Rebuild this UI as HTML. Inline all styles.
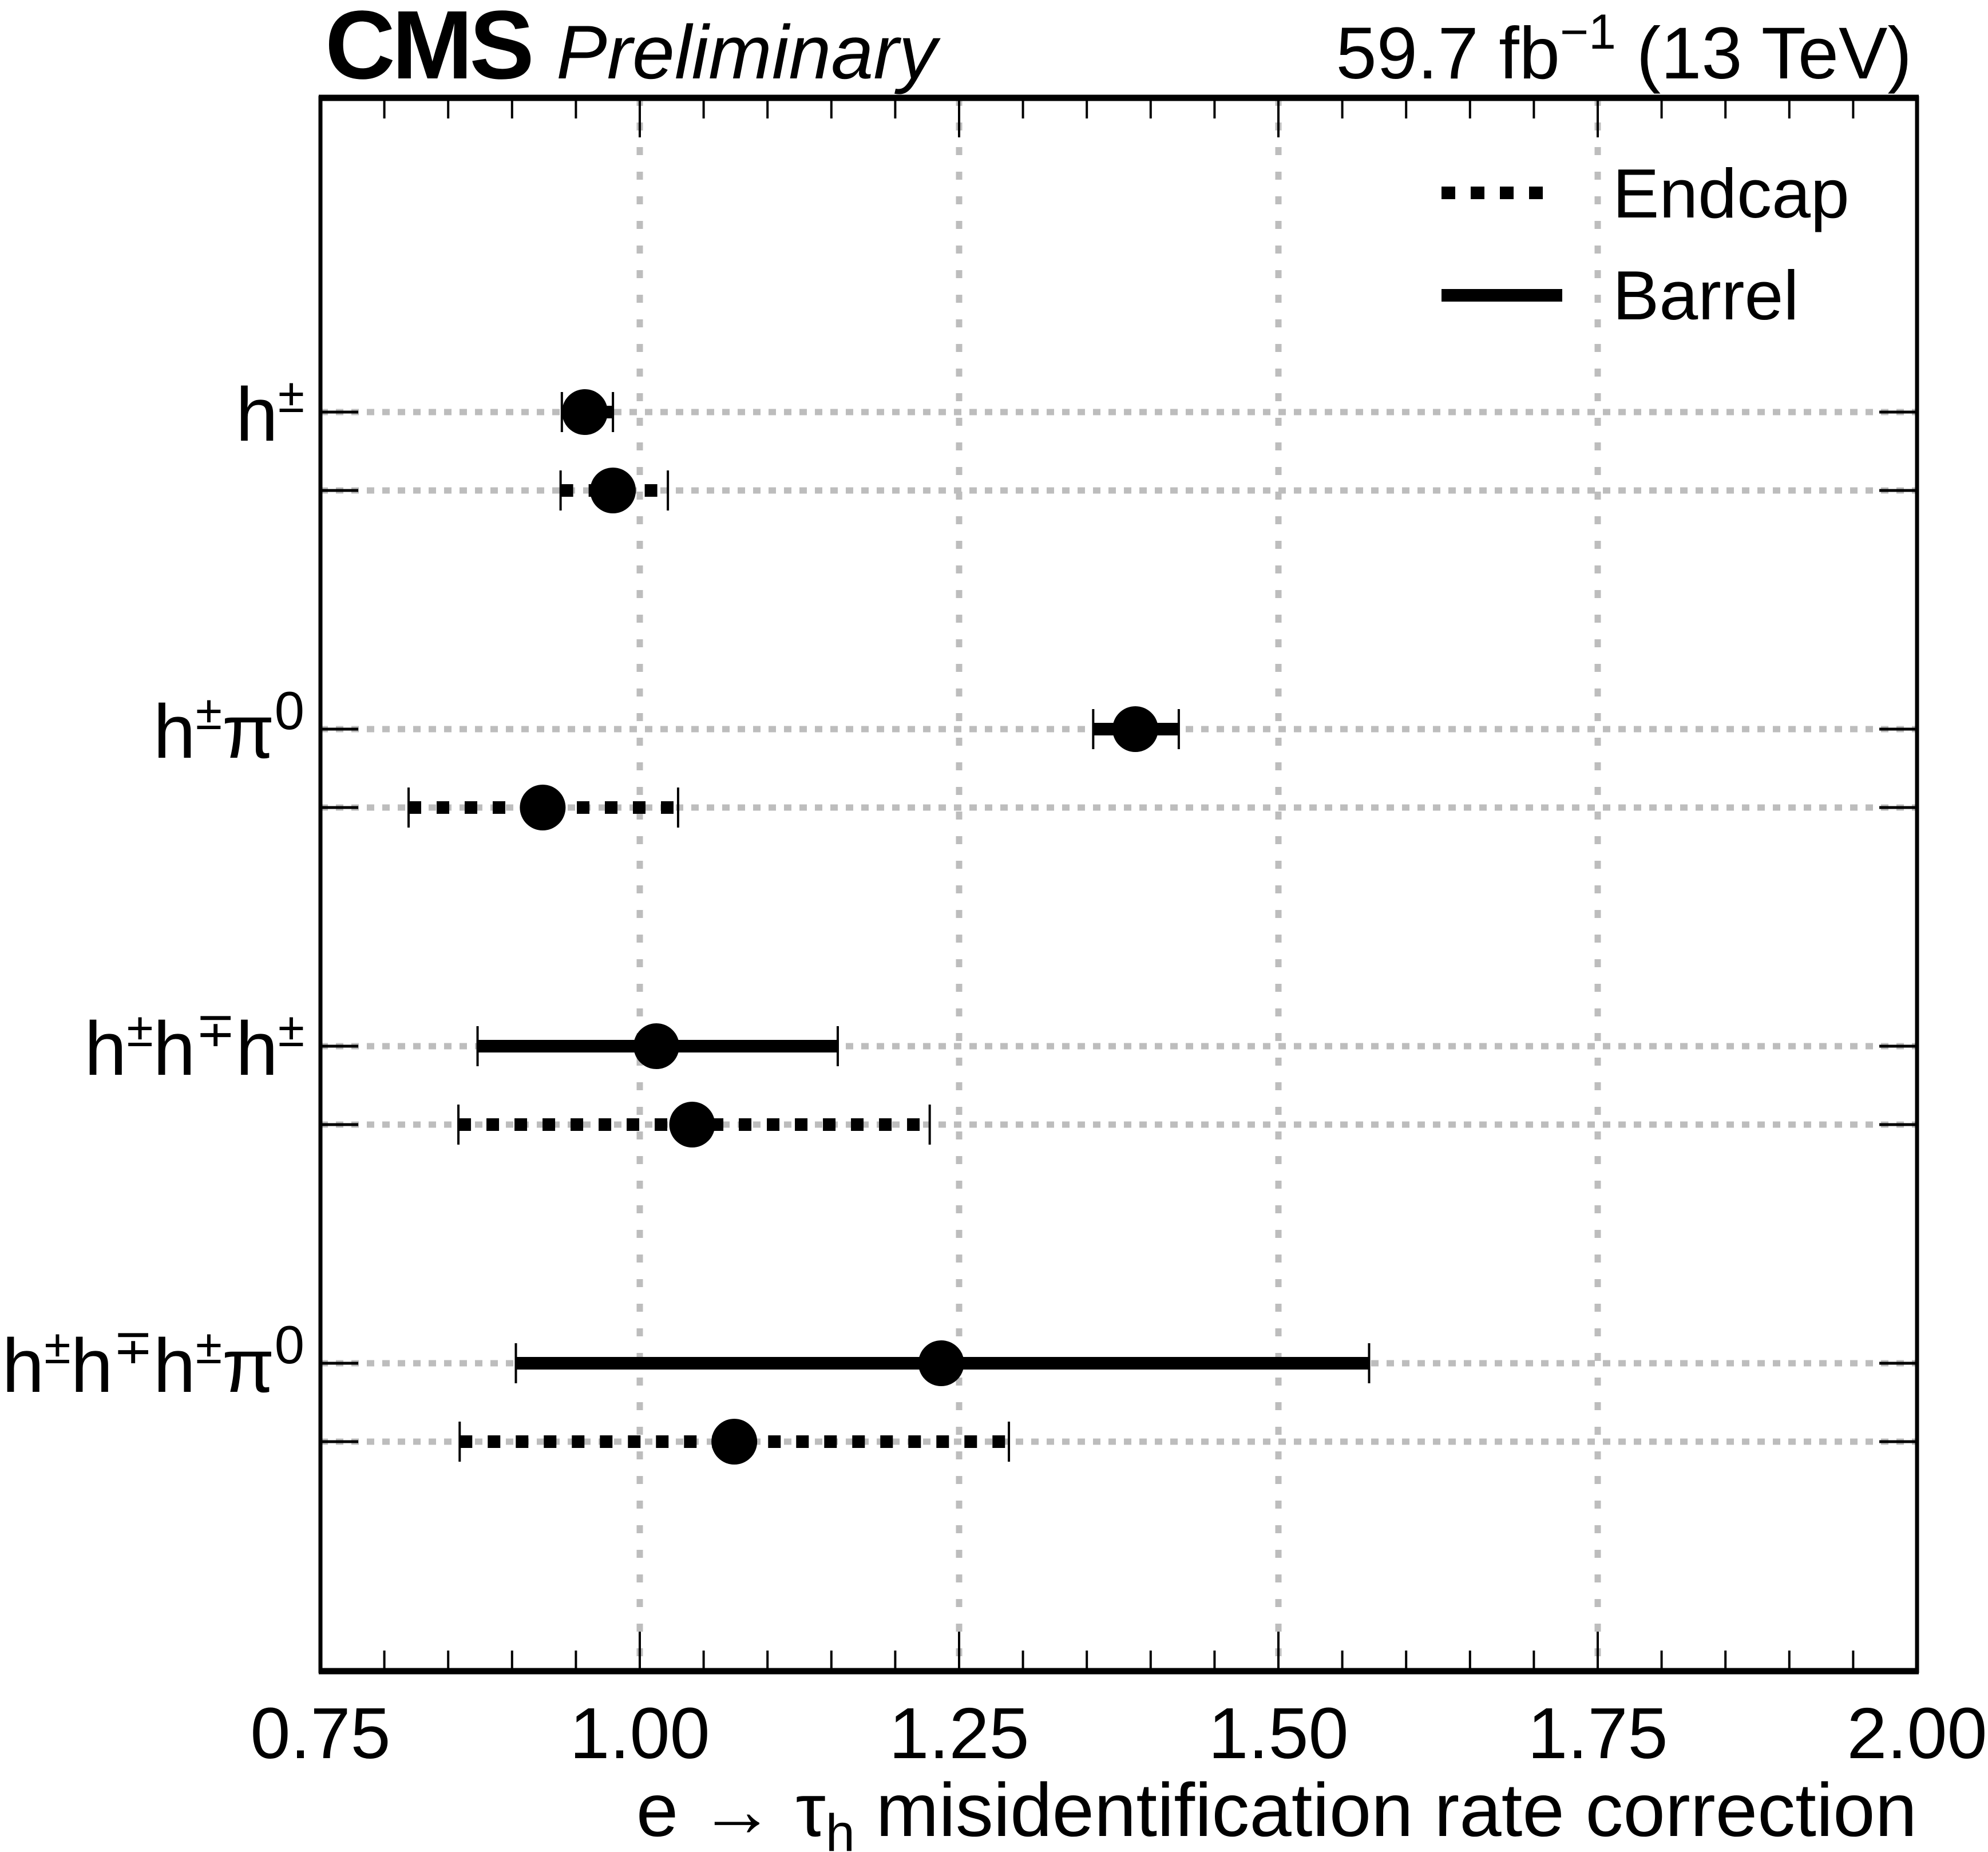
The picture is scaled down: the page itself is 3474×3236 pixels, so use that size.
<!DOCTYPE html>
<html><head><meta charset="utf-8"><style>
html,body{margin:0;padding:0;background:#fff;}
svg{display:block;font-family:"Liberation Sans",sans-serif;}
</style></head><body>
<svg id="chart" width="3474" height="3236" viewBox="0 0 3474 3236" xmlns="http://www.w3.org/2000/svg">
<g id="grid"></g>
<g id="series"></g>
<g id="axes"></g>
<text x="568" y="137" font-size="170" font-weight="bold" letter-spacing="-6">CMS</text>
<text x="972" y="137" font-size="133" font-style="italic">Preliminary</text>
<text x="3341" y="137" font-size="128" text-anchor="end">59.7 fb<tspan font-size="86" dy="-52">−1</tspan><tspan dy="52"> (13 TeV)</tspan></text>
<g>
<line x1="2519" y1="337" x2="2708" y2="337" stroke="#000" stroke-width="22" stroke-dasharray="24 27"/>
<text x="2818" y="380" font-size="122">Endcap</text>
<line x1="2519" y1="516" x2="2730" y2="516" stroke="#000" stroke-width="22"/>
<text x="2818" y="558" font-size="122">Barrel</text>
</g>
<text x="3350" y="3208" font-size="132" text-anchor="end">e → τ<tspan font-size="92" dy="26">h</tspan><tspan dy="-26"> misidentification rate correction</tspan></text>
</svg>
<script>
const categories = ["h±", "h±π0", "h±h∓h±", "h±h∓h±π0"];
const barrelValues = [0.957, 1.388, 1.013, 1.236];
const barrelLow = [0.939, 1.355, 0.873, 0.903];
const barrelHigh = [0.979, 1.422, 1.155, 1.571];
const endcapValues = [0.979, 0.924, 1.041, 1.074];
const endcapLow = [0.938, 0.819, 0.858, 0.859];
const endcapHigh = [1.022, 1.030, 1.227, 1.289];
const xTicks = [0.75, 1.00, 1.25, 1.50, 1.75, 2.00];
const xTickLabels = ["0.75", "1.00", "1.25", "1.50", "1.75", "2.00"];

const L = 560, R = 3350, T = 171, B = 2920;
const xMin = 0.75, xMax = 2.0;
function xs(v){ return L + (v - xMin) / (xMax - xMin) * (R - L); }
const rowTop = 720, rowStep = 554, subGap = 137;
function yBarrel(i){ return rowTop + i * rowStep; }
function yEndcap(i){ return rowTop + i * rowStep + subGap; }

const NS = "http://www.w3.org/2000/svg";
function mk(tag, parent, attrs){
  const e = document.createElementNS(NS, tag);
  for (const k in attrs) e.setAttribute(k, attrs[k]);
  parent.appendChild(e); return e;
}
const grid = document.getElementById('grid');
const series = document.getElementById('series');
const axes = document.getElementById('axes');

for (let i = 1; i < xTicks.length - 1; i++) {
  const g = mk('line', grid, {x1: xs(xTicks[i]), x2: xs(xTicks[i]), y1: T, y2: B, stroke: '#bdbdbd', 'stroke-width': 11, 'stroke-dasharray': '14 29'});
  
  
}
for (let i = 0; i < categories.length; i++) {
  [yBarrel(i), yEndcap(i)].forEach(y => {
    const g = mk('line', grid, {x1: L, x2: R, y1: y, y2: y, stroke: '#bdbdbd', 'stroke-width': 11, 'stroke-dasharray': '13 14'});
    
    
    const t1 = mk('line', axes, {x1: L, x2: L + 66, y1: y, y2: y, stroke: '#000', 'stroke-width': 5});
    
    
    const t2 = mk('line', axes, {x1: R - 66, x2: R, y1: y, y2: y, stroke: '#000', 'stroke-width': 5});
    
    
  });
  const lab = mk('text', axes, {x: 532, y: yBarrel(i) + 50, 'font-size': 133, 'text-anchor': 'end'});
  
  
  const parts = categories[i].match(/h|±|∓|π|0/g);
  let sup = false;
  parts.forEach(p => {
    const ts = document.createElementNS(NS, 'tspan');
    if (p === '±' || p === '∓' || p === '0') {
      ts.setAttribute('font-size', p === '0' ? 94 : 84);
      ts.setAttribute('dy', sup ? 0 : -50); sup = true;
    } else {
      ts.setAttribute('dy', sup ? 50 : 0); sup = false;
    }
    ts.textContent = p;
    lab.appendChild(ts);
  });
}
for (let i = 0; i < categories.length; i++) {
  const yb = yBarrel(i), ye = yEndcap(i);
  let e = mk('line', series, {x1: xs(barrelLow[i]), x2: xs(barrelHigh[i]), y1: yb, y2: yb, stroke: '#000', 'stroke-width': 22});
  
  
  [barrelLow[i], barrelHigh[i]].forEach(v => {
    const c = mk('line', series, {x1: xs(v), x2: xs(v), y1: yb - 35, y2: yb + 35, stroke: '#000', 'stroke-width': 4});
    
    
  });
  e = mk('line', series, {x1: xs(endcapLow[i]), x2: xs(endcapHigh[i]), y1: ye, y2: ye, stroke: '#000', 'stroke-width': 22, 'stroke-dasharray': '22 27'});
  
  
  [endcapLow[i], endcapHigh[i]].forEach(v => {
    const c = mk('line', series, {x1: xs(v), x2: xs(v), y1: ye - 35, y2: ye + 35, stroke: '#000', 'stroke-width': 4});
    
    
  });
  let p = mk('circle', series, {cx: xs(barrelValues[i]), cy: yb, r: 40, fill: '#000'});
  
  
  p = mk('circle', series, {cx: xs(endcapValues[i]), cy: ye, r: 40, fill: '#000'});
  
  
}
for (let v = 0; v <= 25; v++) {
  const val = xMin + v * 0.05;
  const major = v % 5 === 0;
  const len = major ? 69 : 36;
  const x = xs(val);
  let t = mk('line', axes, {x1: x, x2: x, y1: B, y2: B - len, stroke: '#000', 'stroke-width': 4});
  
  
  t = mk('line', axes, {x1: x, x2: x, y1: T, y2: T + len, stroke: '#000', 'stroke-width': 4});
  
  
}
xTicks.forEach((v, i) => {
  const t = mk('text', axes, {x: xs(v), y: 3072, 'font-size': 126, 'text-anchor': 'middle'});
  
  
  t.textContent = xTickLabels[i];
});
let f = mk('rect', axes, {x: L, y: T, width: R - L, height: B - T, fill: 'none', stroke: '#000', 'stroke-width': 7});


f = mk('line', axes, {x1: L - 3, x2: R + 3, y1: T, y2: T, stroke: '#000', 'stroke-width': 11});


f = mk('line', axes, {x1: L - 3, x2: R + 3, y1: B, y2: B, stroke: '#000', 'stroke-width': 11});


</script>
</body></html>
